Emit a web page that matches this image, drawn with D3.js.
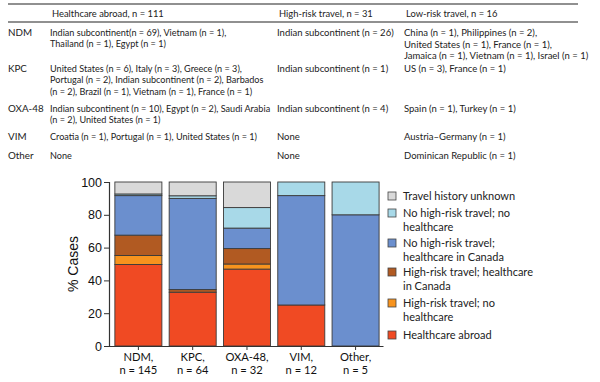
<!DOCTYPE html>
<html>
<head>
<meta charset="utf-8">
<script src="https://cdn.jsdelivr.net/npm/d3@7"></script>
<style>
  body { margin: 0; background: #fff; }
  svg { display: block; }
</style>
</head>
<body>
<div id="chart"></div>
<script>
// table content
const tableHeaders = ["Healthcare abroad, n = 111", "High-risk travel, n = 31", "Low-risk travel, n = 16"];
const tableRows = ["NDM", "KPC", "OXA-48", "VIM", "Other"];
const tableCells = [
  [["Indian subcontinent(n = 69), Vietnam (n = 1),", "Thailand (n = 1), Egypt (n = 1)"],
   ["Indian subcontinent (n = 26)"],
   ["China (n = 1), Philippines (n = 2),", "United States (n = 1), France (n = 1),", "Jamaica (n = 1), Vietnam (n = 1), Israel (n = 1)"]],
  [["United States (n = 6), Italy (n = 3), Greece (n = 3),", "Portugal (n = 2), Indian subcontinent (n = 2), Barbados", "(n = 2), Brazil (n = 1), Vietnam (n = 1), France (n = 1)"],
   ["Indian subcontinent (n = 1)"],
   ["US (n = 3), France (n = 1)"]],
  [["Indian subcontinent (n = 10), Egypt (n = 2), Saudi Arabia", "(n = 2), United States (n = 1)"],
   ["Indian subcontinent (n = 4)"],
   ["Spain (n = 1), Turkey (n = 1)"]],
  [["Croatia (n = 1), Portugal (n = 1), United States (n = 1)"],
   ["None"],
   ["Austria\u2013Germany (n = 1)"]],
  [["None"], ["None"], ["Dominican Republic (n = 1)"]]
];

// chart content (% of cases)
const categories = ["NDM", "KPC", "OXA-48", "VIM", "Other"];
const categoryN = [145, 64, 32, 12, 5];
const seriesNames = [
  "Healthcare abroad",
  "High-risk travel; no healthcare",
  "High-risk travel; healthcare in Canada",
  "No high-risk travel; healthcare in Canada",
  "No high-risk travel; no healthcare",
  "Travel history unknown"
];
const seriesColors = ["#f04a23", "#f7931e", "#b15a22", "#6b8fce", "#a8d9e8", "#d9d9d9"];
const healthcareAbroad = [49.7, 32.8, 46.9, 25.0, 0];
const highRiskNoCare = [5.5, 0, 3.1, 0, 0];
const highRiskCareCanada = [12.4, 1.6, 9.4, 0, 0];
const noHighRiskCareCanada = [24.1, 55.6, 12.5, 66.7, 80];
const noHighRiskNoCare = [1.0, 1.6, 12.5, 8.3, 20];
const travelUnknown = [7.3, 8.4, 15.6, 0, 0];
const legendLines = [
  ["Travel history unknown"],
  ["No high-risk travel; no", "healthcare"],
  ["No high-risk travel;", "healthcare in Canada"],
  ["High-risk travel; healthcare", "in Canada"],
  ["High-risk travel; no", "healthcare"],
  ["Healthcare abroad"]
];
const yTicks = [0, 20, 40, 60, 80, 100];

const width = 600, height = 382;
const tableFont = "Lato, 'Open Sans', sans-serif";
const axisFont = "'Liberation Sans', Arial, sans-serif";

const svg = d3.select("#chart").append("svg")
  .attr("width", width)
  .attr("height", height);

// ---- table ----
const table = svg.append("g").attr("font-family", tableFont).attr("font-size", 9.1).attr("fill", "#222");
const colX = [50, 277, 404];
const colSize = [9.1, 9.5, 9.5];
const rowY = [33, 69, 109, 137, 156];
const lineH = 11.3;

table.append("line").attr("x1", 8).attr("x2", 578).attr("y1", 4).attr("y2", 4)
  .attr("stroke", "#222").attr("stroke-width", 1.2);
table.append("line").attr("x1", 8).attr("x2", 578).attr("y1", 22).attr("y2", 22)
  .attr("stroke", "#222").attr("stroke-width", 1.2);

table.selectAll(".hdr")
  .data(tableHeaders)
  .join("text")
  .attr("x", (d, i) => colX[i] + 2)
  .attr("y", 14)
  .attr("dy", "0.35em")
  .attr("font-size", 9.4)
  .text(d => d);

table.selectAll(".rowlab")
  .data(tableRows)
  .join("text")
  .attr("x", 8)
  .attr("y", (d, i) => rowY[i])
  .attr("dy", "0.35em")
  .attr("font-size", 9.8)
  .text(d => d);

tableCells.forEach((row, ri) => {
  row.forEach((cell, ci) => {
    table.append("text")
      .attr("x", colX[ci])
      .attr("y", rowY[ri])
      .attr("font-size", colSize[ci])
      .selectAll("tspan")
      .data(cell)
      .join("tspan")
      .attr("x", colX[ci])
      .attr("y", (d, li) => rowY[ri] + li * lineH)
      .attr("dy", "0.35em")
      .text(d => d);
  });
});

// ---- stacked bars ----
const plotLeft = 109, plotRight = 383, plotTop = 182, plotBottom = 346;

const rows = categories.map((c, i) => ({
  cat: c,
  s0: healthcareAbroad[i],
  s1: highRiskNoCare[i],
  s2: highRiskCareCanada[i],
  s3: noHighRiskCareCanada[i],
  s4: noHighRiskNoCare[i],
  s5: travelUnknown[i]
}));
const keys = ["s0", "s1", "s2", "s3", "s4", "s5"];
const stacked = d3.stack().keys(keys)(rows);

const x = d3.scaleBand()
  .domain(categories)
  .range([plotLeft, plotRight])
  .paddingInner(0.134)
  .paddingOuter(0.09)
  .align(0.6);

const y = d3.scaleLinear().domain([0, 100]).range([plotBottom, plotTop]);

const bars = svg.append("g");
bars.selectAll("g")
  .data(stacked)
  .join("g")
  .attr("fill", (d, i) => seriesColors[i])
  .selectAll("rect")
  .data(d => d.map(v => ({ v, cat: v.data.cat })).filter(p => p.v[1] - p.v[0] > 0))
  .join("rect")
  .attr("x", d => x(d.cat))
  .attr("width", x.bandwidth())
  .attr("y", d => y(d.v[1]))
  .attr("height", d => y(d.v[0]) - y(d.v[1]))
  .attr("stroke", "#3a3a3a")
  .attr("stroke-width", 0.9);

// y axis
const yAxis = svg.append("g")
  .attr("transform", `translate(${plotLeft},0)`)
  .call(d3.axisLeft(y).tickValues(yTicks).tickSize(5).tickPadding(2));
yAxis.select(".domain").attr("stroke", "#333").attr("stroke-width", 1.2);
yAxis.selectAll(".tick line").attr("stroke", "#333");
yAxis.selectAll("text").attr("font-family", axisFont).attr("font-size", 12.5).attr("fill", "#111");

svg.append("text")
  .attr("transform", `translate(73,${(plotTop + plotBottom) / 2}) rotate(-90)`)
  .attr("text-anchor", "middle")
  .attr("dy", "0.35em")
  .attr("font-family", axisFont)
  .attr("font-size", 14)
  .attr("fill", "#111")
  .text("% Cases");

// x axis
const xAxis = svg.append("g")
  .attr("transform", `translate(0,${plotBottom})`)
  .call(d3.axisBottom(x).tickSize(4).tickSizeOuter(0).tickFormat(""));
xAxis.select(".domain").attr("stroke", "#333").attr("stroke-width", 1.2);
xAxis.selectAll(".tick line").attr("stroke", "#333");

const xl = svg.append("g")
  .attr("font-family", tableFont)
  .attr("font-size", 11.2)
  .attr("fill", "#111")
  .attr("text-anchor", "middle");
xl.selectAll("text")
  .data(categories)
  .join("text")
  .attr("x", d => x(d) + x.bandwidth() / 2)
  .attr("y", 357)
  .selectAll("tspan")
  .data((d, i) => [d + ",", "n = " + categoryN[i]])
  .join("tspan")
  .attr("x", function () { return d3.select(this.parentNode).attr("x"); })
  .attr("y", (d, i) => 357 + i * 13)
  .attr("dy", "0.35em")
  .text(d => d);

// legend
const legendY = [196, 213, 243, 272, 303, 335];
const legendColorIdx = [5, 4, 3, 2, 1, 0];
const legend = svg.append("g")
  .attr("font-family", tableFont)
  .attr("font-size", 11)
  .attr("fill", "#222");
const li = legend.selectAll("g")
  .data(legendLines)
  .join("g")
  .attr("transform", (d, i) => `translate(0,${legendY[i]})`);
li.append("rect")
  .attr("x", 388)
  .attr("y", -4)
  .attr("width", 8)
  .attr("height", 8)
  .attr("fill", (d, i) => seriesColors[legendColorIdx[i]])
  .attr("stroke", "#444")
  .attr("stroke-width", 0.8);
li.append("text")
  .selectAll("tspan")
  .data(d => d)
  .join("tspan")
  .attr("x", 403)
  .attr("y", (d, i) => i * 14.5)
  .attr("dy", "0.35em")
  .text(d => d);
</script>
</body>
</html>
